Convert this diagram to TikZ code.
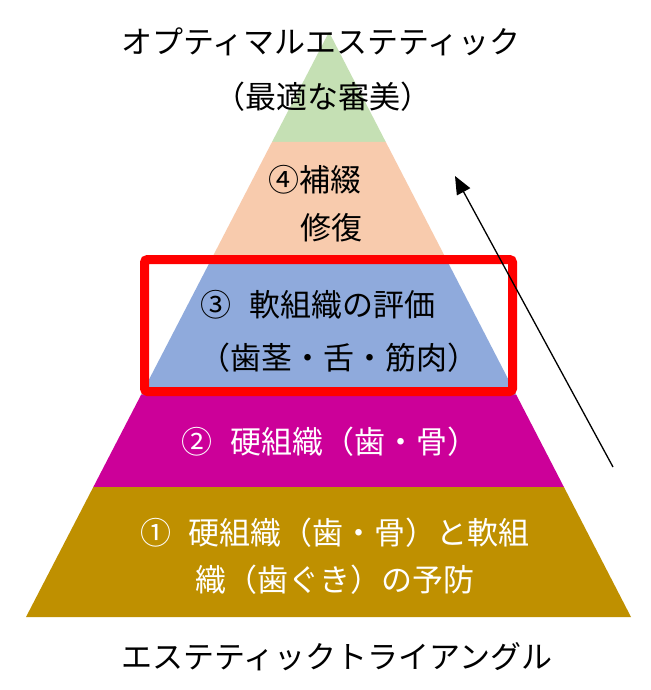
\documentclass[tikz,border=0pt]{standalone}
\usepackage{fontspec}
\newfontfamily\jp{Noto Sans CJK JP}
\usetikzlibrary{calc,arrows.meta}
\definecolor{cgreen}{HTML}{C5E0B4}
\definecolor{cpeach}{HTML}{F8CBAD}
\definecolor{cblue}{HTML}{8FAADC}
\definecolor{cmag}{HTML}{CC0099}
\definecolor{cgold}{HTML}{BF9000}
\definecolor{cred}{HTML}{FF0000}
\newcommand{\numgap}{\hspace{0.55em}}
\tikzset{
  lbl/.style={font=\jp\fontsize{31}{37}\selectfont, inner sep=0pt},
  dark/.style={lbl, text=black},
  light/.style={lbl, text=white}
}
\begin{document}
\begin{tikzpicture}[x=1pt,y=-1pt]
\useasboundingbox (0,0) rectangle (650,690);
\fill[white] (0,0) rectangle (650,690);
\coordinate (A) at (329,32);
\coordinate (BL) at (26,617);
\coordinate (BR) at (631,617);
% layers
\fill[cgreen] (A) -- ($(A)!0.188!(BL)$) -- ($(A)!0.188!(BR)$) -- cycle;
\fill[cpeach] ($(A)!0.188!(BL)$) -- ($(A)!0.386!(BL)$) -- ($(A)!0.386!(BR)$) -- ($(A)!0.188!(BR)$) -- cycle;
\fill[cblue] ($(A)!0.386!(BL)$) -- ($(A)!0.6205!(BL)$) -- ($(A)!0.6205!(BR)$) -- ($(A)!0.386!(BR)$) -- cycle;
\fill[cmag] ($(A)!0.6205!(BL)$) -- ($(A)!0.7778!(BL)$) -- ($(A)!0.7778!(BR)$) -- ($(A)!0.6205!(BR)$) -- cycle;
\fill[cgold] ($(A)!0.7778!(BL)$) -- (BL) -- (BR) -- ($(A)!0.7778!(BR)$) -- cycle;
% red frame
\draw[cred, line width=9pt, rounded corners=3pt] (144.5,259.5) rectangle (512.5,391.5);
% arrow
\coordinate (arrtail) at (613,467);
\coordinate (arrtip) at (455,176);
\draw[line width=1.3pt, -{Triangle[length=18pt,width=15pt]}] (arrtail) -- (arrtip);
% texts
\node[dark] (title) at (321,42) {オプティマルエステティック};
\node[dark] (sub) at (323,97) {（最適な審美）};
\node[dark] (l4a) at (315,180) {④補綴};
\node[dark] (l4b) at (331,228) {修復};
\node[dark] (l3a) at (318,305) {③\numgap 軟組織の評価};
\node[dark] (l3b) at (339,358) {（歯茎・舌・筋肉）};
\node[light] (l2) at (330,442) {②\numgap 硬組織（歯・骨）};
\node[light] (l1a) at (335,533) {①\numgap 硬組織（歯・骨）と軟組};
\node[light] (l1b) at (335,580) {織（歯ぐき）の予防};
\node[dark] (bottom) at (337,657) {エステティックトライアングル};
\end{tikzpicture}
\end{document}
